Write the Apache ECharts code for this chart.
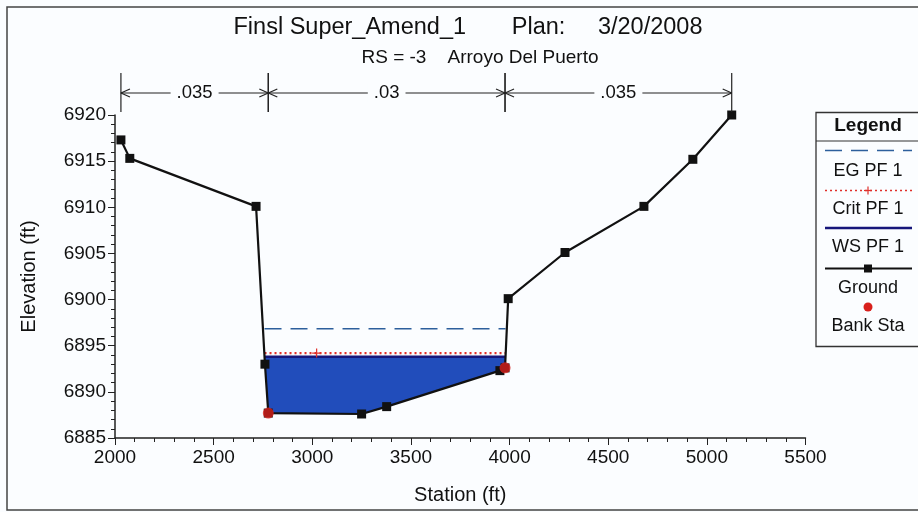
<!DOCTYPE html>
<html>
<head>
<meta charset="utf-8">
<script src="https://cdn.jsdelivr.net/npm/echarts@6/dist/echarts.min.js"></script>
<style>
  html, body { margin: 0; padding: 0; background: #fbfdff; }
  #chart { width: 918px; height: 512px; }
</style>
</head>
<body>
<div id="chart"></div>
<script>
// Cross-section ground profile (station ft, elevation ft)
const stations   = [2030, 2075, 2715, 2760, 2777, 3250, 3377, 3951, 3977, 3993, 4281, 4681, 4929, 5126];
const elevations = [6917.3, 6915.3, 6910.1, 6893.0, 6887.7, 6887.6, 6888.4, 6892.3, 6892.6, 6900.1, 6905.1, 6910.1, 6915.2, 6920.0];

// Bank stations
const bankStations   = [2777, 3977];
const bankElevations = [6887.7, 6892.6];

// Profile PF 1 levels
const wsElev   = 6893.8;
const critElev = 6894.2;
const egElev   = 6896.85;
const critMarkStation = 3022;

// Manning's n breaks and values
const nBreaks = [2030, 2777, 3977, 5126];
const nValues = ['.035', '.03', '.035'];

// Axis ranges
const xMin = 2000, xMax = 5500, xStep = 500;
const yMin = 6885, yMax = 6920, yStep = 5;

const FONT = '"Liberation Sans", Arial, sans-serif';
const BG = '#fbfdff';

// Wetted extent and water polygon for a given level
function wetted(level) {
  let left = null, right = null, poly = [];
  for (let i = 0; i < stations.length - 1; i++) {
    const x0 = stations[i], y0 = elevations[i], x1 = stations[i + 1], y1 = elevations[i + 1];
    if (y0 >= level && y1 < level && left === null) {
      left = x0 + (x1 - x0) * (y0 - level) / (y0 - y1);
      poly.push([left, level]);
    }
    if (left !== null && right === null && y1 < level) poly.push([x1, y1]);
    if (left !== null && right === null && y0 < level && y1 >= level) {
      right = x0 + (x1 - x0) * (level - y0) / (y1 - y0);
      poly.push([right, level]);
    }
  }
  return { left, right, poly };
}
const ws = wetted(wsElev);

const chart = echarts.init(document.getElementById('chart'), null, { renderer: 'canvas' });

const groundData = stations.map((s, i) => [s, elevations[i]]);
const bankData = bankStations.map((s, i) => [s, bankElevations[i]]);
const nData = nValues.map((v, i) => [nBreaks[i], nBreaks[i + 1], yMax]);

const critData = [
  { value: [ws.left, critElev], symbol: 'none' },
  { value: [critMarkStation, critElev] },
  { value: [ws.right, critElev], symbol: 'none' }
];

const plusPath = 'path://M0,5L10,5M5,0L5,10';
const plain = v => String(v);

const legendText = (y, text) => ({
  type: 'text', x: 868, y,
  style: { text, fill: '#111', fontSize: 18, fontFamily: FONT, align: 'center', verticalAlign: 'middle' }
});

chart.setOption({
  backgroundColor: BG,
  animation: false,
  grid: { left: 115, right: 112.5, top: 115, bottom: 74, containLabel: false },
  xAxis: {
    type: 'value', min: xMin, max: xMax, interval: xStep,
    name: 'Station (ft)', nameLocation: 'middle', nameGap: 47,
    nameTextStyle: { color: '#111', fontSize: 20, fontFamily: FONT },
    axisLine: { lineStyle: { color: '#222', width: 1.5 } },
    axisTick: { inside: false, length: 7, lineStyle: { color: '#222' } },
    minorTick: { show: true, splitNumber: 5, length: 4, lineStyle: { color: '#222' } },
    splitLine: { show: false },
    axisLabel: { color: '#111', fontSize: 19, fontFamily: FONT, margin: 10, formatter: plain }
  },
  yAxis: {
    type: 'value', min: yMin, max: yMax, interval: yStep,
    name: 'Elevation (ft)', nameLocation: 'middle', nameGap: 76, nameRotate: 90,
    nameTextStyle: { color: '#111', fontSize: 20, fontFamily: FONT },
    axisLine: { show: true, lineStyle: { color: '#222', width: 1.5 } },
    axisTick: { show: true, inside: false, length: 7, lineStyle: { color: '#222' } },
    minorTick: { show: true, splitNumber: 5, length: 4, lineStyle: { color: '#222' } },
    splitLine: { show: false },
    axisLabel: { color: '#111', fontSize: 19, fontFamily: FONT, margin: 9, formatter: plain }
  },
  series: [
    {
      name: 'WS fill', type: 'custom', z: 1, silent: true,
      data: [[0]],
      renderItem(params, api) {
        const pts = ws.poly.map(p => api.coord(p));
        return { type: 'polygon', shape: { points: pts }, style: { fill: '#214dbb' } };
      }
    },
    {
      name: 'EG PF 1', type: 'line', z: 3, symbol: 'none', silent: true,
      data: [[ws.left, egElev], [ws.right, egElev]],
      lineStyle: { color: '#2d5f9c', width: 1.5, type: [17, 9] }
    },
    {
      name: 'WS PF 1', type: 'line', z: 3, symbol: 'none', silent: true,
      data: [[ws.left, wsElev], [ws.right, wsElev]],
      lineStyle: { color: '#16167a', width: 2.5 }
    },
    {
      name: 'Crit PF 1', type: 'line', z: 4, silent: true,
      data: critData,
      symbol: plusPath, symbolSize: 9,
      itemStyle: { color: 'none', borderColor: '#e0302a', borderWidth: 1.2 },
      lineStyle: { color: '#e0302a', width: 2.2, type: [2, 3] }
    },
    {
      name: 'Ground', type: 'line', z: 5, silent: true,
      data: groundData,
      symbol: 'rect', symbolSize: 9,
      itemStyle: { color: '#111' },
      lineStyle: { color: '#111', width: 2.2 }
    },
    {
      name: 'Bank Sta', type: 'scatter', z: 6, silent: true,
      data: bankData, symbol: 'circle', symbolSize: 11,
      itemStyle: { color: '#d8201c' }
    },
    {
      name: 'n values', type: 'custom', z: 6, silent: true, clip: false,
      encode: { x: [0, 1], y: 2 },
      data: nData,
      renderItem(params, api) {
        const p1 = api.coord([api.value(0), api.value(2)]);
        const p2 = api.coord([api.value(1), api.value(2)]);
        const top = p1[1];
        const yA = top - 22;
        const x1 = p1[0], x2 = p2[0];
        const st = { stroke: '#222', lineWidth: 1.2 };
        const ln = (a, b, c, d) => ({ type: 'line', shape: { x1: a, y1: b, x2: c, y2: d }, style: st });
        return {
          type: 'group',
          children: [
            ln(x1, top - 42, x1, top - 3),
            ln(x2, top - 42, x2, top - 3),
            ln(x1, yA, x2, yA),
            ln(x1, yA, x1 + 9, yA - 4), ln(x1, yA, x1 + 9, yA + 4),
            ln(x2, yA, x2 - 9, yA - 4), ln(x2, yA, x2 - 9, yA + 4),
            {
              type: 'text', x: (x1 + x2) / 2, y: yA,
              style: {
                text: nValues[params.dataIndex], fill: '#111', fontSize: 18.5, fontFamily: FONT,
                align: 'center', verticalAlign: 'middle',
                backgroundColor: BG, padding: [0, 6]
              }
            }
          ]
        };
      }
    }
  ],
  graphic: [
    // outer frame
    { type: 'rect', z: 0, shape: { x: 7, y: 7, width: 940, height: 503 },
      style: { fill: 'none', stroke: '#444', lineWidth: 1.5 } },
    // title lines
    { type: 'text', x: 468, y: 28, style: { text: 'Finsl Super_Amend_1       Plan:     3/20/2008',
      fill: '#111', fontSize: 23.5, fontFamily: FONT, align: 'center', verticalAlign: 'middle' } },
    { type: 'text', x: 480, y: 58, style: { text: 'RS = -3    Arroyo Del Puerto',
      fill: '#111', fontSize: 19, fontFamily: FONT, align: 'center', verticalAlign: 'middle' } },
    // legend box
    { type: 'group', children: [
      { type: 'rect', shape: { x: 816, y: 112.5, width: 120, height: 234 },
        style: { fill: BG, stroke: '#333', lineWidth: 1.3 } },
      { type: 'text', x: 868, y: 126, style: { text: 'Legend', fill: '#111', fontSize: 19, fontWeight: 'bold',
        fontFamily: FONT, align: 'center', verticalAlign: 'middle' } },
      { type: 'line', shape: { x1: 816, y1: 141, x2: 918, y2: 141 }, style: { stroke: '#333', lineWidth: 1.2 } },
      { type: 'line', shape: { x1: 825, y1: 150.5, x2: 912, y2: 150.5 },
        style: { stroke: '#2d5f9c', lineWidth: 1.5, lineDash: [17, 9] } },
      legendText(171, 'EG PF 1'),
      { type: 'line', shape: { x1: 825, y1: 190.5, x2: 912, y2: 190.5 },
        style: { stroke: '#e0302a', lineWidth: 1.5, lineDash: [2, 3] } },
      { type: 'line', shape: { x1: 864, y1: 190.5, x2: 872, y2: 190.5 }, style: { stroke: '#e0302a', lineWidth: 1.2 } },
      { type: 'line', shape: { x1: 868, y1: 186.5, x2: 868, y2: 194.5 }, style: { stroke: '#e0302a', lineWidth: 1.2 } },
      legendText(209.5, 'Crit PF 1'),
      { type: 'line', shape: { x1: 825, y1: 228, x2: 912, y2: 228 }, style: { stroke: '#16167a', lineWidth: 2.5 } },
      legendText(247, 'WS PF 1'),
      { type: 'line', shape: { x1: 825, y1: 268.5, x2: 912, y2: 268.5 }, style: { stroke: '#111', lineWidth: 2 } },
      { type: 'rect', shape: { x: 864, y: 264.5, width: 8, height: 8 }, style: { fill: '#111' } },
      legendText(288, 'Ground'),
      { type: 'circle', shape: { cx: 868, cy: 307, r: 4.5 }, style: { fill: '#d8201c' } },
      legendText(326.5, 'Bank Sta')
    ] }
  ]
});
</script>
</body>
</html>
